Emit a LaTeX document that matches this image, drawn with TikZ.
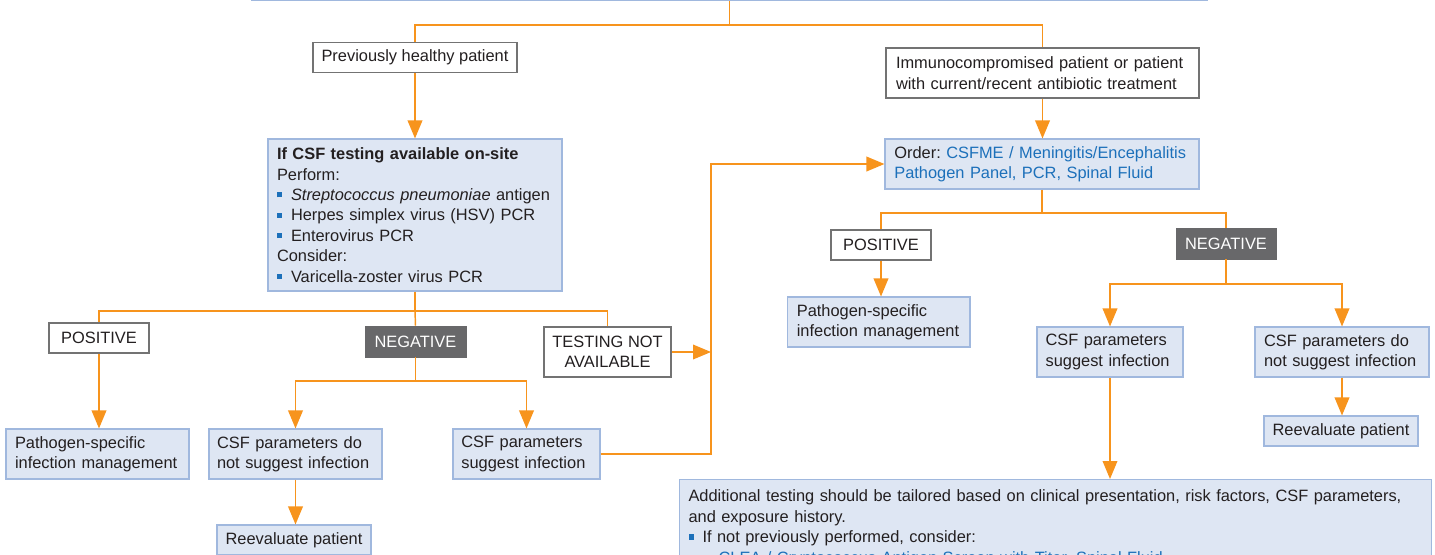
\documentclass[tikz,border=0pt]{standalone}
\usepackage{fontspec}
\setmainfont{Liberation Sans}
\usetikzlibrary{arrows.meta,calc}
\definecolor{orng}{RGB}{247,148,29}
\definecolor{bfill}{RGB}{222,230,243}
\definecolor{bline}{RGB}{160,184,222}
\definecolor{gline}{RGB}{115,115,115}
\definecolor{dfill}{RGB}{104,104,106}
\definecolor{txt}{RGB}{35,31,32}
\definecolor{lnk}{RGB}{28,112,186}
\newcommand{\bul}{\textcolor{lnk}{\rule[2.3pt]{3.9pt}{3.9pt}}\hspace{6.6pt}}
\frenchspacing
\begin{document}
\begin{tikzpicture}[x=0.75pt,y=-0.75pt,
  font=\fontsize{12.3}{15.3}\selectfont, text=txt,
  bluebox/.style={draw=bline, fill=bfill, line width=0.8pt, inner ysep=0pt, align=left},
  whitebox/.style={draw=gline, fill=white, line width=0.9pt, inner sep=0pt, align=center},
  darkbox/.style={draw=dfill, fill=dfill, text=white, inner sep=0pt, align=center},
  cbox/.style={draw=bline, fill=bfill, line width=0.8pt, inner sep=0pt, align=center},
  conn/.style={draw=orng, line width=1.1pt},
  arr/.style={conn, -{Triangle[length=13.5pt,width=11pt]}}]
\useasboundingbox (0,0) rectangle (1435,554);
\clip (0,0) rectangle (1435,554);

% top (cut off) box
\node[cbox, anchor=south, minimum width=716.25pt, minimum height=30pt] (top) at (729.5,1) {};

% first level
\node[whitebox, minimum width=153pt, minimum height=22.5pt] (healthy) at (415,57.5) {Previously healthy patient};
\node[whitebox, align=left, inner xsep=7.5pt, text width=219.75pt, minimum height=37.5pt] (immuno) at (1042.5,73)
  {\mbox{Immunocompromised patient or patient}\\\mbox{with current/recent antibiotic treatment}};

% left branch
\node[bluebox, inner xsep=6.75pt, text width=207pt, minimum height=114pt] (csftest) at (415,215)
  {\mbox{\textbf{If CSF testing available on-site}}\\
   \mbox{Perform:}\\
   \mbox{\bul\textit{Streptococcus pneumoniae} antigen}\\
   \mbox{\bul Herpes simplex virus (HSV) PCR}\\
   \mbox{\bul Enterovirus PCR}\\
   \mbox{Consider:}\\
   \mbox{\bul Varicella-zoster virus PCR}};

\node[whitebox, minimum width=75pt, minimum height=22.5pt] (pos1) at (99,338) {POSITIVE};
\node[darkbox, minimum width=75.75pt, minimum height=23.25pt] (neg1) at (415.5,341.5) {NEGATIVE};
\node[whitebox, minimum width=95.25pt, minimum height=37.5pt] (testna) at (607.5,352) {TESTING NOT\\AVAILABLE};

\node[bluebox, inner xsep=6.75pt, text width=123.75pt, minimum height=37.5pt] (path1) at (97.5,454)
  {\mbox{Pathogen-specific}\\\mbox{infection management}};
\node[bluebox, inner xsep=6pt, text width=117.75pt, minimum height=37.5pt] (noinf1) at (295.5,454)
  {\mbox{CSF parameters do}\\\mbox{not suggest infection}};
\node[bluebox, inner xsep=6.3pt, text width=97.65pt, minimum height=37.5pt] (inf1) at (526.5,454)
  {\mbox{CSF parameters}\\\mbox{suggest infection}};
\node[cbox, minimum width=115.5pt, minimum height=22.5pt] (reeval1) at (294,540) {Reevaluate patient};

% right branch
\node[bluebox, inner xsep=7pt, text width=221.5pt, minimum height=37.5pt] (order) at (1042,164)
  {\mbox{Order: \textcolor{lnk}{CSFME / Meningitis/Encephalitis}}\\\mbox{\textcolor{lnk}{Pathogen Panel, PCR, Spinal Fluid}}};

\node[whitebox, minimum width=75pt, minimum height=22.5pt] (pos2) at (881,245) {POSITIVE};
\node[darkbox, minimum width=75pt, minimum height=23.25pt] (neg2) at (1226,243.5) {NEGATIVE};

\node[bluebox, inner xsep=7pt, text width=122.9pt, minimum height=37.5pt] (path2) at (878.75,322)
  {\mbox{Pathogen-specific}\\\mbox{infection management}};
\node[bluebox, inner xsep=6.45pt, text width=96.6pt, minimum height=37.5pt] (inf2) at (1110,352)
  {\mbox{CSF parameters}\\\mbox{suggest infection}};
\node[bluebox, inner xsep=6.75pt, text width=117pt, minimum height=37.5pt] (noinf2) at (1342,352)
  {\mbox{CSF parameters do}\\\mbox{not suggest infection}};
\node[cbox, minimum width=115.5pt, minimum height=22.5pt] (reeval2) at (1341,431) {Reevaluate patient};

\node[bluebox, anchor=north west, inner xsep=6.75pt, inner ysep=7.9pt, text width=550.5pt] (add) at (679,479)
  {\mbox{Additional testing should be tailored based on clinical presentation, risk factors, CSF parameters,}\\
   \mbox{and exposure history.}\\
   \mbox{\bul If not previously performed, consider:}\\
   \mbox{\hspace{22.5pt}\textcolor{lnk}{CLEA / Cryptococcus Antigen Screen with Titer, Spinal Fluid}}};

% junction coordinates
\coordinate (j0) at (729.5,25);
\coordinate (j1) at (415,311);
\coordinate (j2) at (415.5,381);
\coordinate (j3) at (1042,213);
\coordinate (j4) at (1226,284);
\coordinate (vx) at (711,300);

% connectors
\draw[conn] (top.south) -- (j0);
\draw[conn] (healthy.north) |- (j0) -| (immuno.north);
\draw[arr] (healthy.south) -- (healthy.south |- csftest.north);
\draw[arr] (immuno.south) -- (immuno.south |- order.north);

\draw[conn] (csftest.south) -- (j1);
\draw[conn] (pos1.north) |- (j1) -| (testna.north);
\draw[conn] (j1) -- (neg1.north);
\draw[arr] (pos1.south) -- (pos1.south |- path1.north);
\draw[conn] (neg1.south) -- (j2);
\draw[arr] (j2) -| (noinf1.north);
\draw[arr] (j2) -| (inf1.north);
\draw[arr] (noinf1.south) -- (noinf1.south |- reeval1.north);
\draw[arr] (inf1.east) -- (inf1.east -| vx) |- (order.west);
\draw[arr] (testna.east) -- (testna.east -| vx);

\draw[conn] (order.south) -- (j3);
\draw[conn] (pos2.north) |- (j3) -| (neg2.north);
\draw[arr] (pos2.south) -- (pos2.south |- path2.north);
\draw[conn] (neg2.south) -- (j4);
\draw[arr] (j4) -| (inf2.north);
\draw[arr] (j4) -| (noinf2.north);
\draw[arr] (noinf2.south) -- (noinf2.south |- reeval2.north);
\draw[arr] (inf2.south) -- (inf2.south |- add.north);
\end{tikzpicture}
\end{document}
